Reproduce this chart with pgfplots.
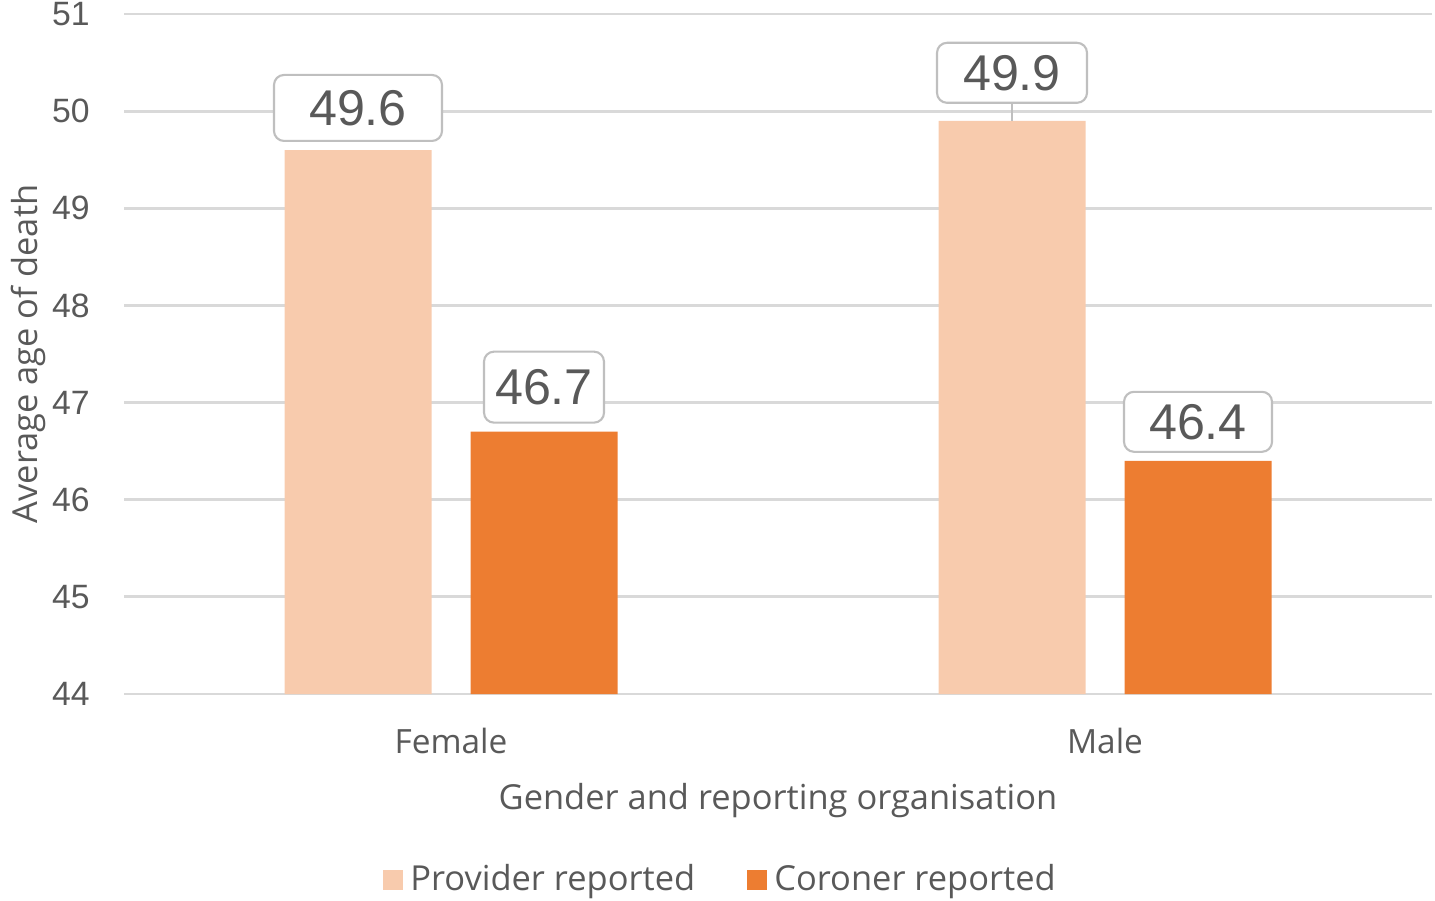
\documentclass[border=0pt]{standalone}
\usepackage{fontspec}
\setmainfont{Open Sans}
\newfontfamily\numfont{Liberation Sans}
\usepackage{pgfplots}
\usepackage{pgfplotstable}
\pgfplotsset{compat=1.18}

\definecolor{provider}{HTML}{F8CBAD}
\definecolor{coroner}{HTML}{ED7D31}
\definecolor{txt}{HTML}{595959}
\definecolor{gridc}{HTML}{D9D9D9}
\definecolor{boxc}{HTML}{BFBFBF}

% x, value, label lift / box width / box height (cm)
\pgfplotstableread{
x  y    dy   w    h
0  49.6 0.08 1.68 0.66
1  49.9 0.17 1.50 0.60
}\provtab
\pgfplotstableread{
x  y    dy   w    h
0  46.7 0.08 1.20 0.71
1  46.4 0.08 1.48 0.60
}\cortab

\begin{document}
\begin{tikzpicture}
\useasboundingbox (0,0) rectangle (14.35,9.0);
\begin{axis}[
    at={(1.24cm,2.06cm)}, anchor=south west,
    scale only axis,
    width=13.08cm, height=6.8cm,
    ybar=0.39cm, bar width=1.47cm,
    xmin=-0.5, xmax=1.5,
    ymin=44, ymax=51,
    ytick={44,...,51},
    xtick={0,1},
    xticklabels={Female,Male},
    axis line style={draw=none},
    major tick length=0pt,
    ymajorgrids,
    grid style={gridc, line width=0.8pt},
    tick label style={txt},
    yticklabel style={font=\numfont\fontsize{9.6}{11}\selectfont, xshift=-0.22cm},
    xticklabel style={font=\fontsize{9.5}{11}\selectfont, yshift=-0.22cm},
    /pgf/number format/assume math mode=true,
    xlabel={Gender and reporting organisation},
    ylabel={Average age of death},
    label style={txt, font=\fontsize{9.8}{11}\selectfont},
    xlabel style={yshift=-0.05cm},
    ylabel style={yshift=-0.18cm},
    legend columns=2,
    legend style={draw=none, fill=none, at={(axis description cs:0.458,-0.2735)},
        anchor=center, font=\fontsize{9.8}{11}\selectfont, text=txt,
        /tikz/every even column/.append style={column sep=0.45cm}},
    legend image code/.code={\fill[#1] (0cm,-0.1cm) rectangle (0.2cm,0.1cm);},
    nodes near coords,
    nodes near coords style={font=\numfont\fontsize{14.3}{16}\selectfont, text=txt,
        draw=boxc, fill=white, rounded corners=0.1cm, line width=0.6pt,
        inner sep=0pt, anchor=south},
    visualization depends on={\thisrow{dy} \as \dy},
    visualization depends on={\thisrow{w} \as \bw},
    visualization depends on={\thisrow{h} \as \bh},
    every node near coord/.append style={yshift=\dy cm,
        minimum width=\bw cm, minimum height=\bh cm},
]
\addplot[fill=provider, draw=none] table[x=x, y=y] {\provtab};
\addlegendentry{Provider reported}
\addplot[fill=coroner, draw=none] table[x=x, y=y] {\cortab};
\addlegendentry{Coroner reported}
\draw[boxc, line width=0.6pt] ([xshift=-0.93cm]axis cs:1,49.9) -- ([xshift=-0.93cm, yshift=0.17cm]axis cs:1,49.9);
\end{axis}
\end{tikzpicture}
\end{document}
